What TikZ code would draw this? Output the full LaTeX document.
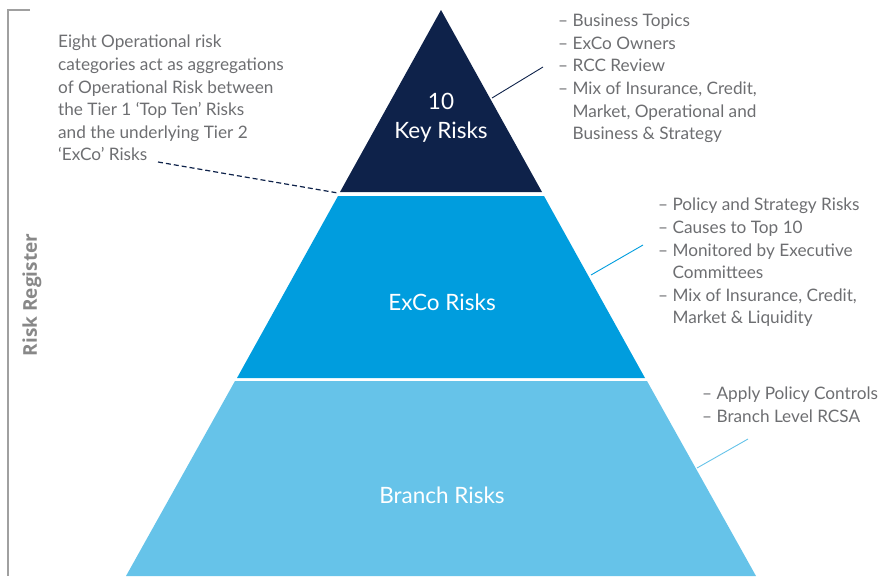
\documentclass[tikz,border=0pt]{standalone}
\usepackage{fontspec}
\setmainfont{Lato}
\newfontfamily\registerfont{Open Sans}
\usetikzlibrary{calc}
\definecolor{KeyNavy}{RGB}{14,34,74}
\definecolor{ExcoBlue}{RGB}{0,157,222}
\definecolor{BranchBlue}{RGB}{102,195,233}
\definecolor{NoteGrey}{RGB}{109,110,113}
\definecolor{FrameGrey}{RGB}{160,160,160}
\begin{document}
\begin{tikzpicture}[x=1pt, y=-1pt,
  tierlabel/.style={text=white, font=\fontsize{22.5}{29}\selectfont, align=center},
  note/.style={text=NoteGrey, font=\fontsize{17.2}{22.6}\selectfont, align=left, inner sep=0pt, anchor=north west},
  leader/.style={line width=0.9pt}]
\useasboundingbox (0,0) rectangle (878,576);
\coordinate (apex) at (441,10);
% pyramid tiers
\fill[KeyNavy] (apex) -- (340,192) -- (542,192) -- cycle;
\fill[ExcoBlue] (338,196) -- (544,196) -- (645,378) -- (237,378) -- cycle;
\fill[BranchBlue] (235,381) -- (647,381) -- (756,576) -- (126,576) -- cycle;
\node[tierlabel] (keyrisks) at (441,118) {10\\Key Risks};
\node[tierlabel] (excorisks) at (442,302) {ExCo Risks};
\node[tierlabel] (branchrisks) at (442,495) {Branch Risks};
% risk register frame
\draw[FrameGrey, line width=1.2pt] (30,10) -- (8,10) -- (8,576);
\node[rotate=90, text=FrameGrey!85!black, font=\registerfont\fontsize{19}{22}\selectfont\bfseries] (register) at (32,295) {Risk Register};
% notes
\node[note] (tiernote) at (58,35) {Eight Operational risk\\categories act as aggregations\\of Operational Risk between\\the Tier 1 `Top Ten' Risks\\and the underlying Tier 2\\`ExCo' Risks};
\node[note] (keynote) at (558,14) {-- Business Topics\\-- ExCo Owners\\-- RCC Review\\-- Mix of Insurance, Credit,\\\hphantom{-- }Market, Operational and\\\hphantom{-- }Business \& Strategy};
\node[note] (exconote) at (658,198) {-- Policy and Strategy Risks\\-- Causes to Top 10\\-- Monitored by Executive\\\hphantom{-- }Committees\\-- Mix of Insurance, Credit,\\\hphantom{-- }Market \& Liquidity};
\node[note] (branchnote) at (702,387) {-- Apply Policy Controls\\-- Branch Level RCSA};
% leaders
\coordinate (tierend) at (338,193);
\coordinate (tierstart) at (158,162);
\coordinate (keyedge) at (492,98);
\coordinate (keytip) at (543,67);
\coordinate (excoedge) at (591,275);
\coordinate (excotip) at (643,245);
\coordinate (branchedge) at (697,468);
\coordinate (branchtip) at (748,439);
\draw[leader, KeyNavy, line width=1.2pt, dash pattern=on 5pt off 3pt] (tierstart) -- (tierend);
\draw[leader, KeyNavy] (keyedge) -- (keytip);
\draw[leader, ExcoBlue] (excoedge) -- (excotip);
\draw[leader, BranchBlue] (branchedge) -- (branchtip);
\end{tikzpicture}
\end{document}
